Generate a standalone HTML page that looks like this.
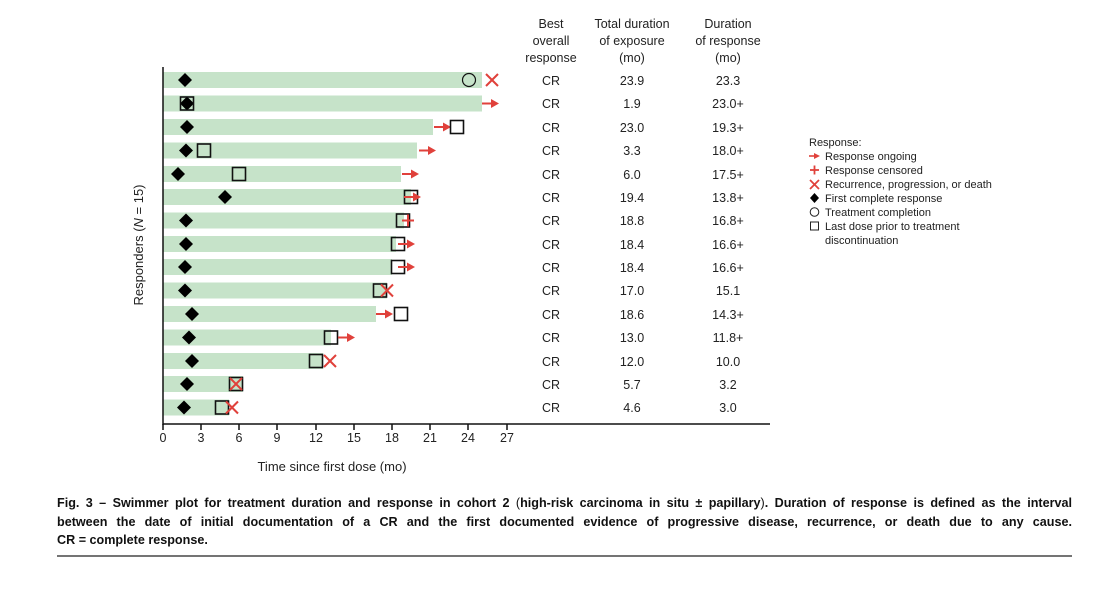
<!DOCTYPE html>
<html><head><meta charset="utf-8"><style>
body{margin:0;width:1117px;height:601px;background:#fff;overflow:hidden;position:relative;font-family:"Liberation Sans",sans-serif}
svg{position:absolute;left:0;top:0}
.cap{position:absolute;left:57px;width:1015px;font-weight:bold;font-size:12.6px;line-height:18.5px;top:494px;text-align:justify;color:#111;font-family:"Liberation Sans",sans-serif}
.cap div{text-align:justify;text-align-last:justify;white-space:nowrap}
.cap div.l{text-align-last:left}
</style></head><body>
<svg width="1117" height="601" viewBox="0 0 1117 601" font-family="Liberation Sans, sans-serif">
<defs>
<polygon id="d" points="0,-7 7,0 0,7 -7,0" fill="#000"/>
<rect id="s" x="-6.5" y="-6.5" width="13" height="13" fill="none" stroke="#111" stroke-width="1.6"/>
<circle id="o" r="6.5" fill="none" stroke="#111" stroke-width="1.2"/>
<g id="a"><line x1="0" y1="0" x2="10" y2="0" stroke="#e0413b" stroke-width="2"/><polygon points="9,-4.5 17,0 9,4.5" fill="#e0413b"/></g>
<g id="x" stroke="#e0413b" stroke-width="2"><line x1="-6" y1="-6" x2="6" y2="6"/><line x1="-6" y1="6" x2="6" y2="-6"/></g>
<g id="p" stroke="#e0413b" stroke-width="2"><line x1="-6" y1="0" x2="6" y2="0"/><line x1="0" y1="-6" x2="0" y2="6"/></g>
</defs>
<g fill="#c6e3c9">
<rect x="163" y="72" width="319" height="16"/>
<rect x="163" y="95.5" width="319" height="16"/>
<rect x="163" y="119" width="270" height="16"/>
<rect x="163" y="142.5" width="254" height="16"/>
<rect x="163" y="166" width="238" height="16"/>
<rect x="163" y="189" width="248" height="16"/>
<rect x="163" y="212.5" width="241" height="16"/>
<rect x="163" y="236" width="233" height="16"/>
<rect x="163" y="259" width="229" height="16"/>
<rect x="163" y="282.5" width="224" height="16"/>
<rect x="163" y="306" width="213" height="16"/>
<rect x="163" y="329.5" width="168" height="16"/>
<rect x="163" y="353" width="160" height="16"/>
<rect x="163" y="376" width="80" height="16"/>
<rect x="163" y="399.5" width="66" height="16"/>
</g>
<!-- markers -->
<use href="#d" x="185" y="80"/><use href="#o" x="469" y="80"/><use href="#x" x="492" y="80"/>
<use href="#d" x="187" y="103.5"/><use href="#s" x="187" y="103.5"/><use href="#a" x="482" y="103.5"/>
<use href="#d" x="187" y="127"/><use href="#a" x="434" y="127"/><use href="#s" x="457" y="127"/>
<use href="#d" x="186" y="150.5"/><use href="#s" x="204" y="150.5"/><use href="#a" x="419" y="150.5"/>
<use href="#d" x="178" y="174"/><use href="#s" x="239" y="174"/><use href="#a" x="402" y="174"/>
<use href="#d" x="225" y="197"/><use href="#s" x="411" y="197"/><use href="#a" x="404" y="197"/>
<use href="#d" x="186" y="220.5"/><use href="#s" x="403" y="220.5"/><use href="#p" x="408" y="220.5"/>
<use href="#d" x="186" y="244"/><use href="#s" x="398" y="244"/><use href="#a" x="398" y="244"/>
<use href="#d" x="185" y="267"/><use href="#s" x="398" y="267"/><use href="#a" x="398" y="267"/>
<use href="#d" x="185" y="290.5"/><use href="#s" x="380" y="290.5"/><use href="#x" x="387" y="290.5"/>
<use href="#d" x="192" y="314"/><use href="#a" x="376" y="314"/><use href="#s" x="401" y="314"/>
<use href="#d" x="189" y="337.5"/><use href="#s" x="331" y="337.5"/><use href="#a" x="338" y="337.5"/>
<use href="#d" x="192" y="361"/><use href="#s" x="316" y="361"/><use href="#x" x="330" y="361"/>
<use href="#d" x="187" y="384"/><use href="#s" x="236" y="384"/><use href="#x" x="236" y="384"/>
<use href="#d" x="184" y="407.5"/><use href="#s" x="222" y="407.5"/><use href="#x" x="232" y="407.5"/>
<!-- axes -->
<g stroke="#111" stroke-width="1.5">
<line x1="163" y1="67" x2="163" y2="425"/>
<line x1="163" y1="424" x2="770" y2="424"/>
<line x1="163" y1="424" x2="163" y2="430"/><line x1="201" y1="424" x2="201" y2="430"/><line x1="239" y1="424" x2="239" y2="430"/><line x1="277" y1="424" x2="277" y2="430"/><line x1="316" y1="424" x2="316" y2="430"/><line x1="354" y1="424" x2="354" y2="430"/><line x1="392" y1="424" x2="392" y2="430"/><line x1="430" y1="424" x2="430" y2="430"/><line x1="468" y1="424" x2="468" y2="430"/><line x1="507" y1="424" x2="507" y2="430"/>
</g>
<g font-size="12.5" fill="#222" text-anchor="middle">
<text x="163" y="442">0</text><text x="201" y="442">3</text><text x="239" y="442">6</text><text x="277" y="442">9</text><text x="316" y="442">12</text><text x="354" y="442">15</text><text x="392" y="442">18</text><text x="430" y="442">21</text><text x="468" y="442">24</text><text x="507" y="442">27</text>
<text x="332" y="471" font-size="13">Time since first dose (mo)</text>
<text transform="translate(143,245) rotate(-90)" font-size="13">Responders (<tspan font-style="italic">N</tspan> = 15)</text>
</g>
<g font-size="12.5" fill="#222" text-anchor="middle">
<text x="551" y="28">Best</text><text x="551" y="45">overall</text><text x="551" y="62">response</text>
<text x="632" y="28">Total duration</text><text x="632" y="45">of exposure</text><text x="632" y="62">(mo)</text>
<text x="728" y="28">Duration</text><text x="728" y="45">of response</text><text x="728" y="62">(mo)</text>
</g>
<g font-size="12.5" fill="#222" text-anchor="middle">
<text x="551" y="85">CR</text><text x="632" y="85">23.9</text><text x="728" y="85">23.3</text>
<text x="551" y="108">CR</text><text x="632" y="108">1.9</text><text x="728" y="108">23.0+</text>
<text x="551" y="132">CR</text><text x="632" y="132">23.0</text><text x="728" y="132">19.3+</text>
<text x="551" y="155">CR</text><text x="632" y="155">3.3</text><text x="728" y="155">18.0+</text>
<text x="551" y="179">CR</text><text x="632" y="179">6.0</text><text x="728" y="179">17.5+</text>
<text x="551" y="202">CR</text><text x="632" y="202">19.4</text><text x="728" y="202">13.8+</text>
<text x="551" y="225">CR</text><text x="632" y="225">18.8</text><text x="728" y="225">16.8+</text>
<text x="551" y="249">CR</text><text x="632" y="249">18.4</text><text x="728" y="249">16.6+</text>
<text x="551" y="272">CR</text><text x="632" y="272">18.4</text><text x="728" y="272">16.6+</text>
<text x="551" y="295">CR</text><text x="632" y="295">17.0</text><text x="728" y="295">15.1</text>
<text x="551" y="319">CR</text><text x="632" y="319">18.6</text><text x="728" y="319">14.3+</text>
<text x="551" y="342">CR</text><text x="632" y="342">13.0</text><text x="728" y="342">11.8+</text>
<text x="551" y="366">CR</text><text x="632" y="366">12.0</text><text x="728" y="366">10.0</text>
<text x="551" y="389">CR</text><text x="632" y="389">5.7</text><text x="728" y="389">3.2</text>
<text x="551" y="412">CR</text><text x="632" y="412">4.6</text><text x="728" y="412">3.0</text>
</g>
<!-- legend -->
<g font-size="11" fill="#222">
<text x="809" y="146">Response:</text>
<text x="825" y="160">Response ongoing</text>
<text x="825" y="174">Response censored</text>
<text x="825" y="188">Recurrence, progression, or death</text>
<text x="825" y="202">First complete response</text>
<text x="825" y="216">Treatment completion</text>
<text x="825" y="230">Last dose prior to treatment</text>
<text x="825" y="244">discontinuation</text>
</g>
<g>
<line x1="809" y1="156" x2="815" y2="156" stroke="#e0413b" stroke-width="1.6"/><polygon points="814,153 820,156 814,159" fill="#e0413b"/>
<g stroke="#e0413b" stroke-width="1.8"><line x1="810" y1="170" x2="819" y2="170"/><line x1="814.5" y1="165.5" x2="814.5" y2="174.5"/>
<line x1="810" y1="180" x2="819" y2="189"/><line x1="810" y1="189" x2="819" y2="180"/></g>
<polygon points="814.5,193 819,198 814.5,203 810,198" fill="#000"/>
<circle cx="814.5" cy="212" r="4.3" fill="none" stroke="#222" stroke-width="1"/>
<rect x="810.5" y="222" width="8" height="8" fill="none" stroke="#222" stroke-width="1"/>
</g>
<line x1="57" y1="556" x2="1072" y2="556" stroke="#222" stroke-width="1.2"/>
</svg>
<div class="cap">
<div>Fig. 3 – Swimmer plot for treatment duration and response in cohort 2 <span style="font-weight:normal">(</span>high-risk carcinoma in situ ± papillary<span style="font-weight:normal">)</span>. Duration of response is defined as the interval</div>
<div>between the date of initial documentation of a CR and the first documented evidence of progressive disease, recurrence, or death due to any cause.</div>
<div class="l">CR = complete response.</div>
</div>
</body></html>
